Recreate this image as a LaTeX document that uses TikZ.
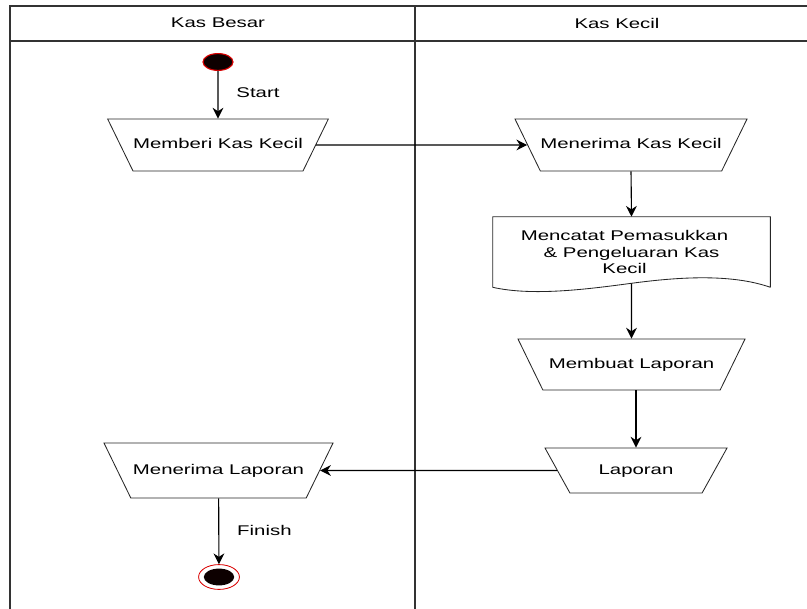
\documentclass[tikz,border=0pt]{standalone}
\usepackage{fontspec}
\setmainfont{Liberation Sans}[FakeStretch=1.45]
\usetikzlibrary{shapes.geometric,arrows.meta,calc,positioning}

\begin{document}
\begin{tikzpicture}[x=0.025cm, y=-0.025cm, font=\fontsize{10}{12}\selectfont,
  lane/.style={draw=black!80, line width=0.9pt},
  arr/.style={draw=black, line width=0.8pt, -{Stealth[length=2.7mm, width=2.7mm]}},
  act/.style={trapezium, shape border rotate=180, trapezium angle=64,
    trapezium stretches body, draw=black!85, line width=0.6pt, inner xsep=0pt,
    text height=0.25cm, text depth=0.05cm, inner ysep=0.5cm},
  docbox/.style={draw=black!85, line width=0.6pt},
  startdot/.style={ellipse, draw=red!85!black, fill=black!95!red, line width=0.8pt,
    minimum width=0.75cm, minimum height=0.42cm, inner sep=0pt}]
  \useasboundingbox (0,0) rectangle (807,609);

  % swimlanes
  \draw[lane] (10,609) -- (10,6) -- (807,6);
  \draw[lane] (10,41) -- (807,41);
  \draw[lane] (415,6) -- (415,609);
  \node (hbesar) at (218,23) {Kas Besar};
  \node (hkecil) at (617,23) {Kas Kecil};

  % start and finish
  \node[startdot] (start) at (218,62) {};
  \node[ellipse, draw=red!85!black, line width=0.6pt, minimum width=1.02cm,
    minimum height=0.62cm, inner sep=0pt,
    path picture={\fill[black!95!red] (path picture bounding box.center) ellipse (0.38cm and 0.21cm);}]
    (finish) at (219,577) {};

  % activities
  \node[act, minimum width=5.5cm] (beri) at (218,145) {Memberi Kas Kecil};
  \node[act, minimum width=5.675cm] (terimakas) at (631,145) {Menerima Kas Kecil};
  \node[act, minimum width=5.675cm, inner ysep=0.4875cm] (buat) at (631.5,364.5) {Membuat Laporan};
  \node[act, minimum width=4.55cm, inner ysep=0.4125cm, trapezium angle=61] (lap) at (636,470.5) {Laporan};
  \node[act, minimum width=5.725cm, inner ysep=0.5375cm] (terimalap) at (218.5,470.5) {Menerima Laporan};

  % document
  \node[minimum width=6.925cm, minimum height=1.75cm, align=center] (catat) at (631.5,252)
    {Mencatat Pemasukkan\hspace*{0.35cm}\\ \& Pengeluaran Kas\hspace*{0.75cm}\\ Kecil\hspace*{0.35cm}};
  \draw[docbox] (catat.south east) -- (catat.north east) -- (catat.north west) -- (catat.south west)
    .. controls +(40,9) and +(-45,6) .. ($(catat.south)+(0,-4)$) coordinate (catatwave)
    .. controls +(45,-6) and +(-40,-14) .. (catat.south east);

  % flow
  \draw[arr] (start) -- (beri) node[pos=0.45, right=0.33cm] {Start};
  \draw[arr] (beri.east) -- (terimakas.west);
  \draw[arr] (terimakas.south) -- (catat.north);
  \draw[arr] (catatwave) -- (buat.north);
  \draw[arr] (lap.north |- buat.south) -- (lap.north);
  \draw[arr] (lap.west) -- (terimalap.east);
  \draw[arr] (terimalap) -- (finish) node[pos=0.48, right=0.33cm] {Finish};
\end{tikzpicture}
\end{document}
